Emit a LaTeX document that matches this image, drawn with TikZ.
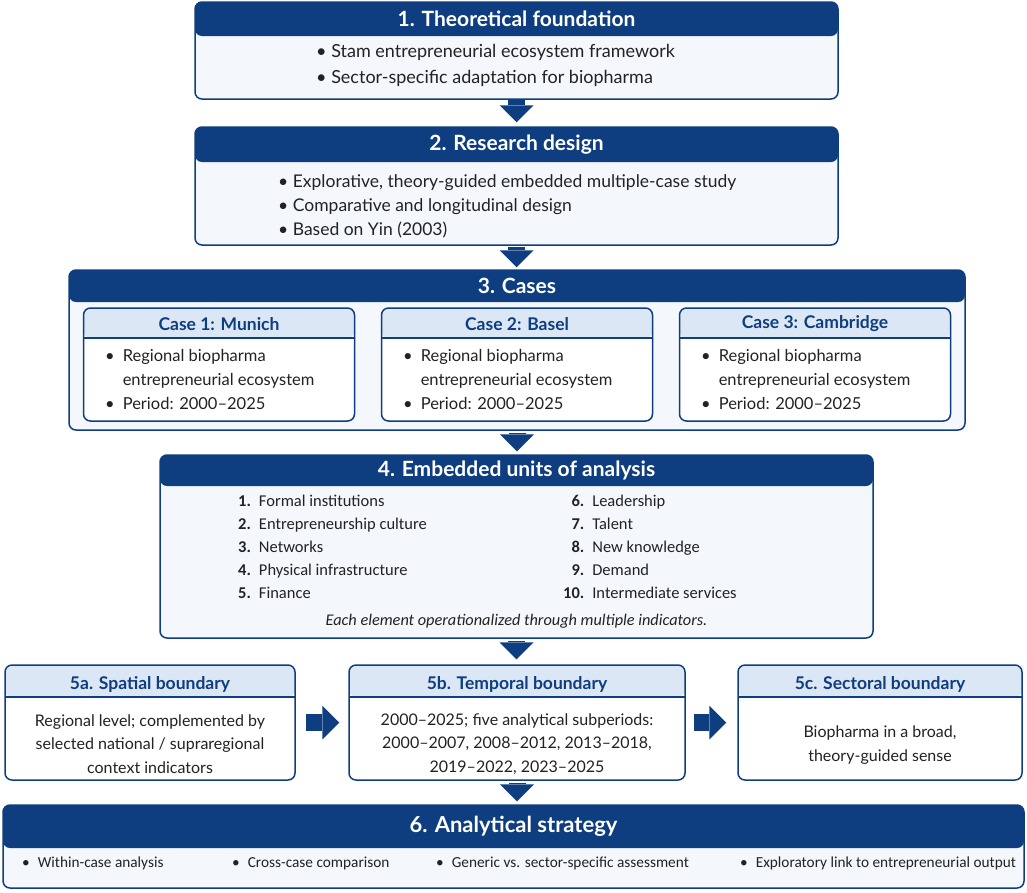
\documentclass[tikz,border=0pt]{standalone}
\usepackage{fontspec}
\setmainfont{Lato}
\newfontfamily\narrowfont{Carlito}
\usetikzlibrary{arrows.meta,positioning}

\definecolor{navy}{HTML}{0E3E7F}
\definecolor{paleblue}{HTML}{F4F7FC}
\definecolor{headblue}{HTML}{DCE7F5}
\definecolor{ink}{HTML}{222222}

\tikzset{
  panel/.style={draw=navy, line width=1.5pt, rounded corners=7pt, fill=paleblue, inner sep=0pt},
  darkhead/.style={path picture={
      \fill[navy] (path picture bounding box.north west) rectangle ([yshift=-#1]path picture bounding box.north east);}},
  lighthead/.style={path picture={
      \fill[headblue] (path picture bounding box.north west) rectangle ([yshift=-#1]path picture bounding box.north east);
      \draw[navy, line width=1.3pt] ([yshift=-#1]path picture bounding box.north west) -- ([yshift=-#1]path picture bounding box.north east);}},
  headtext/.style={text=white, inner sep=0pt, font=\fontsize{21}{24}\selectfont\bfseries},
  subtitle/.style={text=navy, inner sep=0pt, font=\fontsize{17.5}{20}\selectfont\bfseries},
  bodytext/.style={text=ink, inner sep=0pt, font=\fontsize{16.5}{24}\selectfont},
  listtext/.style={text=ink, inner sep=0pt, font=\narrowfont\fontsize{16.5}{23}\selectfont},
  flow/.style={navy, line width=17pt, -{Triangle[width=34pt,length=17pt,line width=0pt]}},
}

\begin{document}
\begin{tikzpicture}[x=1pt, y=-1pt]
  \fill[white] (0,0) rectangle (1027,892);
  \useasboundingbox (0,0) rectangle (1027,892);

  % 1. Theoretical foundation
  \node[panel, darkhead=34pt, minimum width=643pt, minimum height=97pt] (found) at (516.5,50.5) {};
  \node[headtext] (foundhead) at (516.5,19) {1. Theoretical foundation};
  \node[bodytext, anchor=west, align=left, font=\fontsize{18}{26}\selectfont] (foundtxt) at (316,65)
    {• Stam entrepreneurial ecosystem framework\\• Sector-specific adaptation for biopharma};

  % 2. Research design
  \node[panel, darkhead=35pt, minimum width=643pt, minimum height=118pt] (design) at (516.5,186) {};
  \node[headtext] (designhead) at (516.5,145) {2. Research design};
  \node[bodytext, anchor=west, align=left, font=\fontsize{17.5}{24}\selectfont] (designtxt) at (278,206)
    {• Explorative, theory-guided embedded multiple-case study\\• Comparative and longitudinal design\\• Based on Yin (2003)};

  % 3. Cases
  \node[panel, darkhead=32pt, minimum width=896pt, minimum height=160pt] (cases) at (517,350) {};
  \node[headtext] (caseshead) at (517,286) {3. Cases};
  \foreach \cx/\cname/\ctitle in {219/munich/Case 1: Munich, 517/basel/Case 2: Basel, 815/cambridge/Case 3: Cambridge} {
    \node[panel, lighthead=30pt, fill=white, minimum width=271pt, minimum height=113pt] (\cname) at (\cx,364.5) {};
    \node[subtitle] (\cname head) at (\cx,324) {\ctitle};
    \node[bodytext, anchor=west] (\cname txt) at (\cx-114,381)
      {\begin{tabular}{@{}l@{\hspace{8pt}}l@{}}
        • & Regional biopharma\\
          & entrepreneurial ecosystem\\
        • & Period: 2000–2025
       \end{tabular}};
  }

  % 4. Embedded units of analysis
  \node[panel, darkhead=31pt, minimum width=713pt, minimum height=183pt] (units) at (516.5,546.5) {};
  \node[headtext] (unitshead) at (516.5,470) {4. Embedded units of analysis};
  \node[listtext, anchor=west] (unitsleft) at (238,548)
    {\begin{tabular}{@{}r@{\hspace{8pt}}l@{}}
      \textbf{1.} & Formal institutions\\
      \textbf{2.} & Entrepreneurship culture\\
      \textbf{3.} & Networks\\
      \textbf{4.} & Physical infrastructure\\
      \textbf{5.} & Finance
     \end{tabular}};
  \node[listtext, anchor=west] (unitsright) at (563,548)
    {\begin{tabular}{@{}r@{\hspace{8pt}}l@{}}
      \textbf{6.} & Leadership\\
      \textbf{7.} & Talent\\
      \textbf{8.} & New knowledge\\
      \textbf{9.} & Demand\\
      \textbf{10.} & Intermediate services
     \end{tabular}};
  \node[listtext, font=\narrowfont\itshape\fontsize{16.3}{20}\selectfont] (unitsnote) at (516.5,621)
    {Each element operationalized through multiple indicators.};

  % 5a-5c. Boundaries
  \node[panel, lighthead=32pt, fill=white, minimum width=290pt, minimum height=115pt] (spatial) at (150,722.5) {};
  \node[subtitle] (spatialhead) at (150,684) {5a. Spatial boundary};
  \node[bodytext, align=center, font=\fontsize{16}{23.5}\selectfont] (spatialtxt) at (150,744)
    {Regional level; complemented by\\selected national / supraregional\\context indicators};

  \node[panel, lighthead=32pt, fill=white, minimum width=336pt, minimum height=115pt] (temporal) at (517,722.5) {};
  \node[subtitle] (temporalhead) at (517,684) {5b. Temporal boundary};
  \node[bodytext, align=center, font=\fontsize{16}{23.5}\selectfont] (temporaltxt) at (517,744)
    {2000–2025; five analytical subperiods:\\2000–2007, 2008–2012, 2013–2018,\\2019–2022, 2023–2025};

  \node[panel, lighthead=32pt, fill=white, minimum width=284pt, minimum height=115pt] (sectoral) at (880,722.5) {};
  \node[subtitle] (sectoralhead) at (880,684) {5c. Sectoral boundary};
  \node[bodytext, align=center, font=\fontsize{16}{24}\selectfont] (sectoraltxt) at (880,745)
    {Biopharma in a broad,\\theory-guided sense};

  % 6. Analytical strategy
  \node[panel, darkhead=43pt, minimum width=1021pt, minimum height=83pt] (strategy) at (513.5,846.5) {};
  \node[headtext, font=\fontsize{22}{24}\selectfont\bfseries] (strategyhead) at (513.5,826) {6. Analytical strategy};
  \foreach \sx/\sname/\stext in {22/within/Within-case analysis, 232/cross/Cross-case comparison,
                                 436/generic/Generic vs. sector-specific assessment, 740/link/Exploratory link to entrepreneurial output} {
    \node[listtext, anchor=west, font=\narrowfont\fontsize{15.3}{18}\selectfont] (\sname) at (\sx,863) {•\hspace{8pt}\stext};
  }

  % flow arrows
  \draw[flow, shorten >=4pt] (found.south) -- (found.south |- design.north);
  \draw[flow, shorten <=1pt, shorten >=2pt] (design.south) -- (design.south |- cases.north);
  \draw[flow, shorten <=2pt, shorten >=3pt] (cases.south) -- (cases.south |- units.north);
  \draw[flow, shorten <=2pt, shorten >=5pt] (units.south) -- (units.south |- temporal.north);
  \draw[flow, shorten <=10pt, shorten >=9pt] (spatial.east) -- (temporal.west);
  \draw[flow, shorten <=8pt, shorten >=11pt] (temporal.east) -- (sectoral.west);
  \draw[flow, shorten <=2pt, shorten >=3pt] (temporal.south) -- (temporal.south |- strategy.north);
\end{tikzpicture}
\end{document}
